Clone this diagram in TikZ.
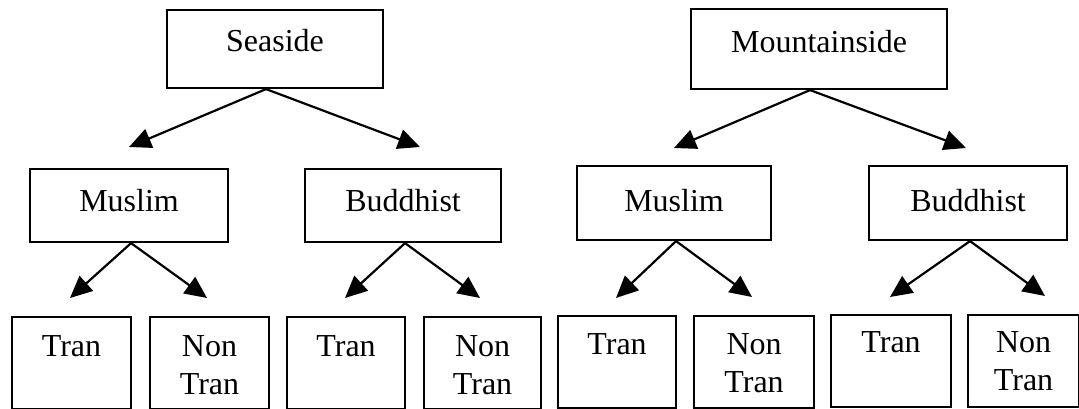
\documentclass[tikz,border=0pt]{standalone}
\usepackage{fontspec}
\setmainfont{Liberation Serif}
\usetikzlibrary{arrows.meta}
\begin{document}
\begin{tikzpicture}[x=1pt,y=-1pt,
  box/.style={draw, line width=2.1pt, rectangle, inner xsep=0pt, inner ysep=0pt,
    anchor=north west, font=\fontsize{32}{38}\selectfont},
  arr/.style={line width=2.2pt, -{Triangle[length=22pt,width=20pt]}}]
\useasboundingbox (0,0) rectangle (1079,409);
\clip (0,0) rectangle (1079,409);
% top level
\node[box, minimum width=216pt, text height=41pt, text depth=37pt] (sea) at (166,9) {Seaside};
\node[box, minimum width=256pt, text height=43pt, text depth=37pt] (mtn) at (690,8) {Mountainside};
% middle level
\node[box, minimum width=198pt, text height=42pt, text depth=31pt] (m1) at (29,168) {Muslim};
\node[box, minimum width=196pt, text height=42pt, text depth=31pt] (b1) at (304,168) {Buddhist};
\node[box, minimum width=194pt, text height=45pt, text depth=29pt] (m2) at (576,165) {Muslim};
\node[box, minimum width=198pt, text height=45pt, text depth=29pt] (b2) at (868,165) {Buddhist};
% bottom level
\node[box, minimum width=119pt, text height=39pt, text depth=53pt] (t1) at (11,316) {Tran};
\node[box, minimum width=119pt, text height=39pt, text depth=53pt] (n1) at (149,316) {\begin{tabular}[t]{@{}c@{}}Non\\Tran\end{tabular}};
\node[box, minimum width=118pt, text height=39pt, text depth=53pt] (t2) at (286,316) {Tran};
\node[box, minimum width=117pt, text height=39pt, text depth=53pt] (n2) at (423,316) {\begin{tabular}[t]{@{}c@{}}Non\\Tran\end{tabular}};
\node[box, minimum width=118pt, text height=38pt, text depth=54pt] (t3) at (557,315) {Tran};
\node[box, minimum width=120pt, text height=38pt, text depth=54pt] (n3) at (693,315) {\begin{tabular}[t]{@{}c@{}}Non\\Tran\end{tabular}};
\node[box, minimum width=120pt, text height=37pt, text depth=55pt] (t4) at (830,314) {Tran};
\node[box, minimum width=111pt, text height=37pt, text depth=55pt] (n4) at (967,314) {\begin{tabular}[t]{@{}c@{}}Non\\Tran\end{tabular}};
% arrow tips
\coordinate (sa) at (129,147);
\coordinate (sb) at (420,147);
\coordinate (ma) at (674,148);
\coordinate (mb) at (966,148);
\coordinate (m1a) at (70,298);
\coordinate (m1b) at (207,298);
\coordinate (b1a) at (345,298);
\coordinate (b1b) at (480,298);
\coordinate (m2a) at (616,298);
\coordinate (m2b) at (752,297);
\coordinate (b2a) at (890,297);
\coordinate (b2b) at (1045,296);
% connectors
\draw[arr] ([xshift=-9pt]sea.south) -- (sa);
\draw[arr] ([xshift=-9pt]sea.south) -- (sb);
\draw[arr] ([xshift=-9pt]mtn.south) -- (ma);
\draw[arr] ([xshift=-9pt]mtn.south) -- (mb);
\draw[arr] ([xshift=2pt]m1.south) -- (m1a);
\draw[arr] ([xshift=2pt]m1.south) -- (m1b);
\draw[arr] ([xshift=2pt]b1.south) -- (b1a);
\draw[arr] ([xshift=2pt]b1.south) -- (b1b);
\draw[arr] ([xshift=2pt]m2.south) -- (m2a);
\draw[arr] ([xshift=2pt]m2.south) -- (m2b);
\draw[arr] ([xshift=2pt]b2.south) -- (b2a);
\draw[arr] ([xshift=2pt]b2.south) -- (b2b);
\end{tikzpicture}
\end{document}
